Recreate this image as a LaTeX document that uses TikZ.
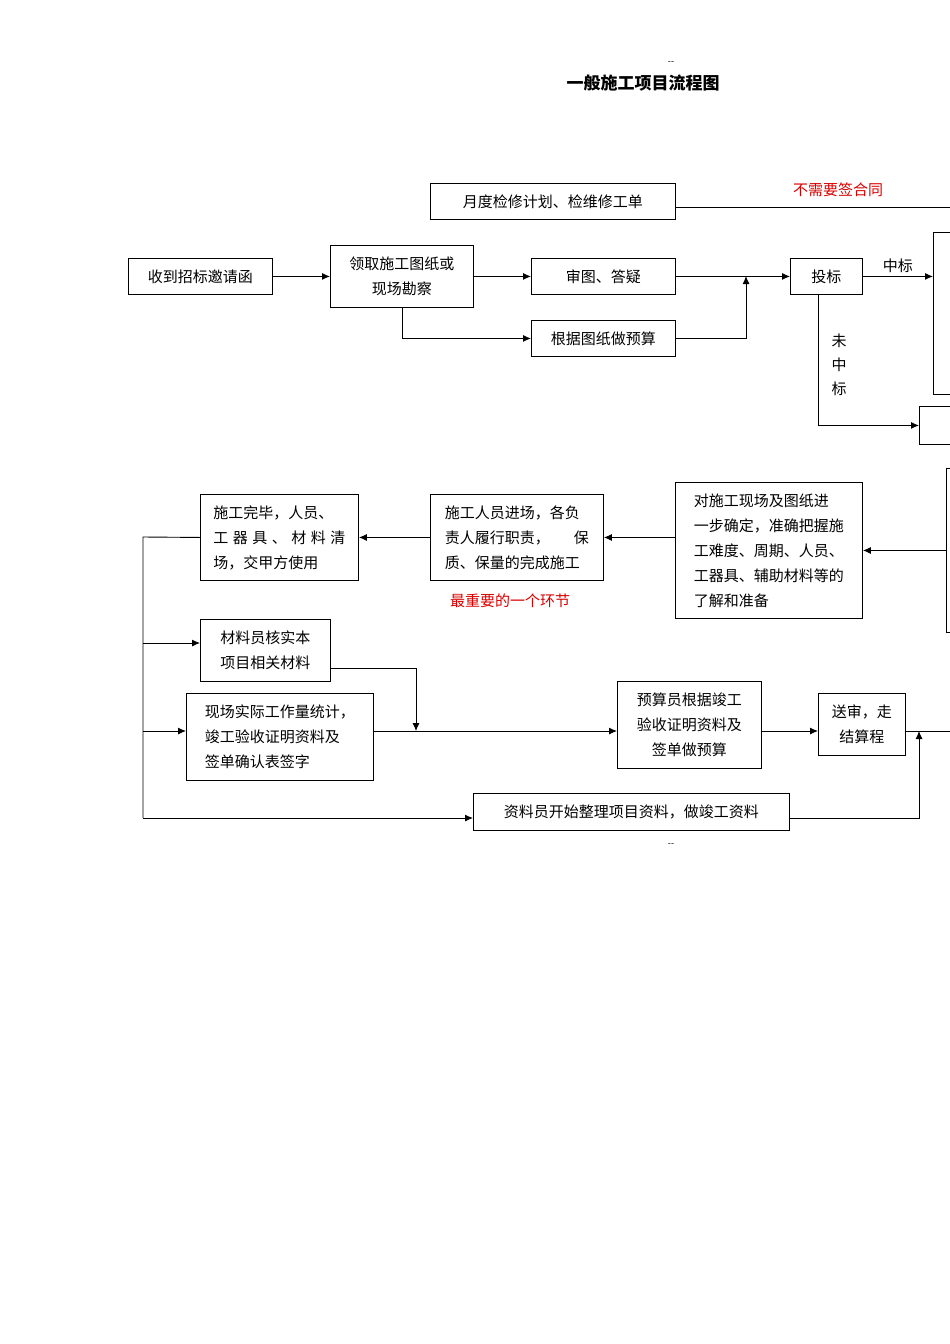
\documentclass[tikz,border=0pt]{standalone}
\usepackage{fontspec}
\setmainfont{Noto Sans CJK SC}
\usetikzlibrary{arrows.meta}
\tikzset{
 bx/.style={draw,line width=0.9pt,anchor=north west,inner sep=0pt,font=\fontsize{15}{25}\selectfont,align=left},
 ar/.style={-{Latex[length=8pt,width=7pt]},line width=0.9pt},
 ln/.style={line width=0.9pt},
 red/.style={text=red!85!black,font=\fontsize{15}{18}\selectfont},
 lb/.style={font=\fontsize{15}{24}\selectfont}
}
\begin{document}
\begin{tikzpicture}[x=1pt,y=-1pt]
\useasboundingbox (0,0) rectangle (950,1344);
\begin{scope}
\clip (0,0) rectangle (950,1344);
\node[font=\small] (d1) at (671,63) {-{}-};
\node[font=\small] (d2) at (671,845) {-{}-};
\node[font=\bfseries\fontsize{17}{20}\selectfont] (t) at (643,83) {一般施工项目流程图};
\node[bx,minimum width=245,minimum height=36,align=center] (m) at (430,183) {月度检修计划、检维修工单};
\coordinate (mr) at (950,207);
\draw[ln] (m.east |- mr) -- (mr);
\node[red] (nq) at (838,190) {不需要签合同};
\node[bx,minimum width=144,minimum height=36,align=center] (a) at (128,258) {收到招标邀请函};
\node[bx,minimum width=143,minimum height=62,align=center] (b) at (330,245) {领取施工图纸或\\现场勘察};
\node[bx,minimum width=144,minimum height=36,align=center] (c) at (531,258) {审图、答疑};
\node[bx,minimum width=144,minimum height=36,align=center] (d) at (531,320) {根据图纸做预算};
\node[bx,minimum width=72,minimum height=36,align=center] (e) at (790,258) {投标};
\node[bx,minimum width=40,minimum height=162] (f) at (933,232) {};
\node[bx,minimum width=50,minimum height=38] (g) at (919,406) {};
\node[bx,minimum width=40,minimum height=164] (h) at (946,468) {};
\draw[ar] (a) -- (b.west |- a.east);
\draw[ar] (b.east |- c.west) -- (c);
\draw[ar] (c) -- (e);
\draw[ar] (b.south) |- (d.west);
\draw[ar] (d.east) -| (746,276);
\draw[ar] (e.east) -- (f.west |- e.east) node[midway,above,lb] {中标};
\draw[ar] (818,276) ++(0,18) |- (g.west);
\node[lb,align=center] (wz) at (839,365) {未\\中\\标};
\node[bx,minimum width=187,minimum height=136,inner xsep=12pt] (p) at (675,482) {对施工现场及图纸进\\一步确定，准确把握施\\工难度、周期、人员、\\工器具、辅助材料等的\\了解和准备};
\node[bx,minimum width=173,minimum height=86,inner xsep=13pt] (q) at (430,494) {施工人员进场，各负\\责人履行职责，\hspace{1.6em}保\\质、保量的完成施工};
\node[red] (zy) at (510,601) {最重要的一个环节};
\node[bx,minimum width=158,minimum height=86,inner xsep=13pt] (r) at (200,494) {施工完毕，人员、\\工\hspace{0.3em}器\hspace{0.3em}具\hspace{0.3em}、\hspace{0.3em}材\hspace{0.3em}料\hspace{0.3em}清\\场，交甲方使用};
\draw[ar] (h.west |- p.east) -- (p.east);
\draw[ar] (p.west |- q.east) -- (q.east);
\draw[ar] (q) -- (r);
\node[bx,minimum width=130,minimum height=62,align=center] (s) at (200,619) {材料员核实本\\项目相关材料};
\node[bx,minimum width=187,minimum height=87,inner xsep=13pt] (u) at (186,693) {现场实际工作量统计，\\竣工验收证明资料及\\签单确认表签字};
\node[bx,minimum width=144,minimum height=87,align=center] (v) at (617,681) {预算员根据竣工\\验收证明资料及\\签单做预算};
\node[bx,minimum width=87,minimum height=62,align=center] (w) at (818,693) {送审，走\\结算程};
\node[bx,minimum width=316,minimum height=37,align=center] (x) at (473,793) {资料员开始整理项目资料，做竣工资料};
\coordinate (L) at (143,537);
\coordinate (LB) at (143,818);
\draw[ln] (r.west) -- (L) -- (LB);
\draw[ar] (143,643) -- (s.west |- 0,643);
\draw[ar] (143,731) -- (u.west |- 0,731);
\draw[ar] (LB) -- (x.west |- LB);
\draw[ar] (s.east |- 0,668) -- (416,668) -- (416,731);
\draw[ar] (u.east |- 0,731) -- (v.west |- 0,731);
\draw[ar] (v.east |- 0,731) -- (w.west |- 0,731);
\draw[ln] (w.east |- 0,731) -- (950,731);
\draw[ar] (x.east |- 0,818) -- (919,818) -- (919,731);
\end{scope}
\end{tikzpicture}
\end{document}
